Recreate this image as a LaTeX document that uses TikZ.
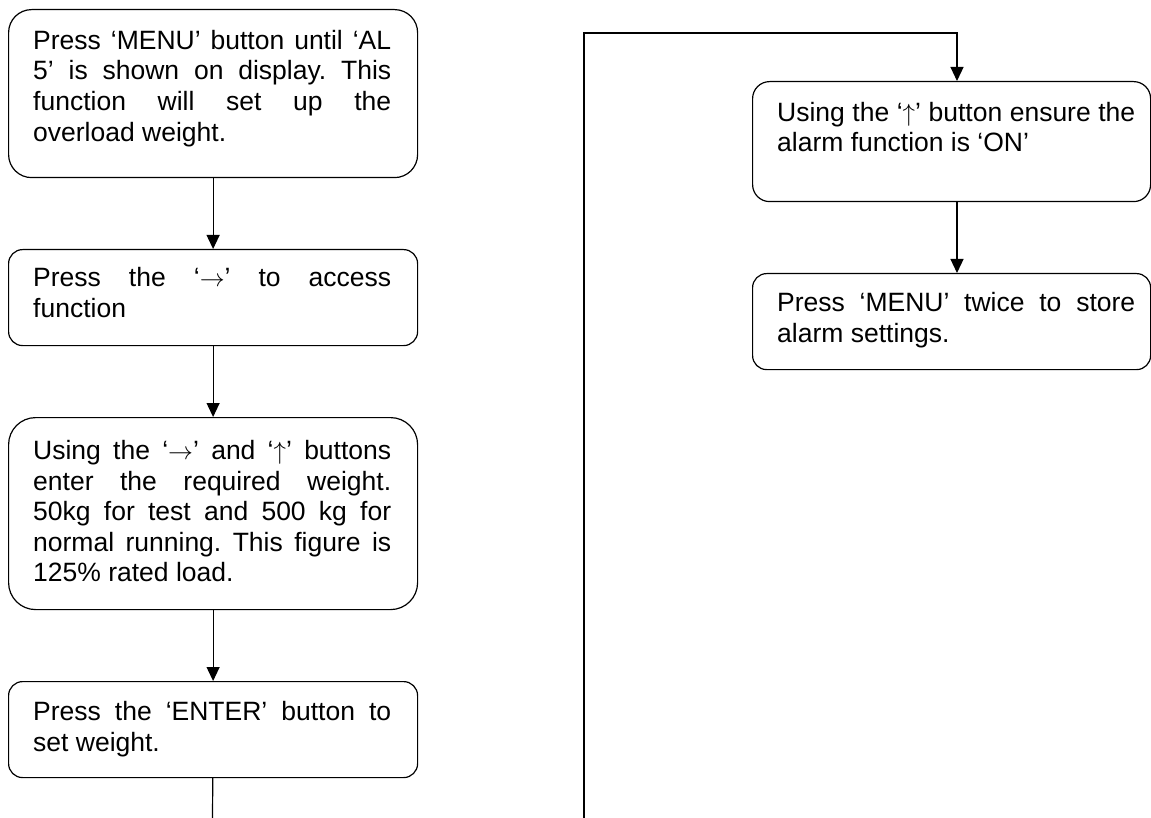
\documentclass[tikz,border=0pt]{standalone}
\usepackage{fontspec}
\setmainfont{Liberation Sans}
\usetikzlibrary{arrows.meta}
\frenchspacing

\begin{document}
\begin{tikzpicture}[x=1pt,y=-1pt,
		stepbox/.style={draw,line width=1.2pt,inner sep=0pt,anchor=north west},
		steptext/.style={anchor=north west,inner sep=0pt,align=justify,text width=358pt,font=\fontsize{26.5}{30.6}\selectfont},
		flow/.style={line width=1.2pt,-{Triangle[length=14pt,width=13pt]}}]
		%%%%% START %%%%%
		
		\useasboundingbox (0,0) rectangle (1151,818);
		
		% left column
		\node[stepbox,rounded corners=23pt,minimum width=409pt,minimum height=168pt] (menu) at (8,9) {};
		\node[steptext] (menutext) at ([xshift=25pt,yshift=-21pt]menu.north west)
			{Press ‘MENU’ button until ‘AL\linebreak 5’ is shown on display. This\linebreak function will set up the\linebreak overload weight.};
		
		\node[stepbox,rounded corners=14pt,minimum width=409pt,minimum height=96pt] (access) at (8,249) {};
		\node[steptext] (accesstext) at ([xshift=25pt,yshift=-18pt]access.north west)
			{Press the ‘$\rightarrow$’ to access\linebreak function};
		
		\node[stepbox,rounded corners=27pt,minimum width=409pt,minimum height=192pt] (weight) at (8,417) {};
		\node[steptext] (weighttext) at ([xshift=25pt,yshift=-23pt]weight.north west)
			{Using the ‘$\rightarrow$’ and ‘$\uparrow$’ buttons\linebreak enter the required weight.\linebreak 50kg for test and 500 kg for\linebreak normal running. This figure is\linebreak 125\% rated load.};
		
		\node[stepbox,rounded corners=14pt,minimum width=409pt,minimum height=96pt] (enter) at (8,681) {};
		\node[steptext] (entertext) at ([xshift=25pt,yshift=-20pt]enter.north west)
			{Press the ‘ENTER’ button to\linebreak set weight.};
		
		\draw[flow] (menu) -- (access);
		\draw[flow] (access) -- (weight);
		\draw[flow] (weight) -- (enter);
		\coordinate (down) at (212.5,818);
		\draw[line width=1.2pt] (enter) -- (down);
		
		% right column
		\node[stepbox,rounded corners=17pt,minimum width=398pt,minimum height=120pt] (alarm) at (752,81) {};
		\node[steptext] (alarmtext) at ([xshift=25pt,yshift=-21pt]alarm.north west)
			{Using the ‘$\uparrow$’ button ensure the\linebreak alarm function is ‘ON’};
		
		\node[stepbox,rounded corners=14pt,minimum width=398pt,minimum height=96pt] (store) at (752,273) {};
		\node[steptext] (storetext) at ([xshift=25pt,yshift=-19pt]store.north west)
			{Press ‘MENU’ twice to store\linebreak alarm settings.};
		
		\coordinate (back) at (584,818);
		\coordinate (bend) at (957,33);
		\draw[flow] (back) |- (bend) -- (bend |- alarm.north);
		\draw[flow] (bend |- alarm.south) -- (bend |- store.north);
		
		%%%%% END %%%%%
\end{tikzpicture}
\end{document}
